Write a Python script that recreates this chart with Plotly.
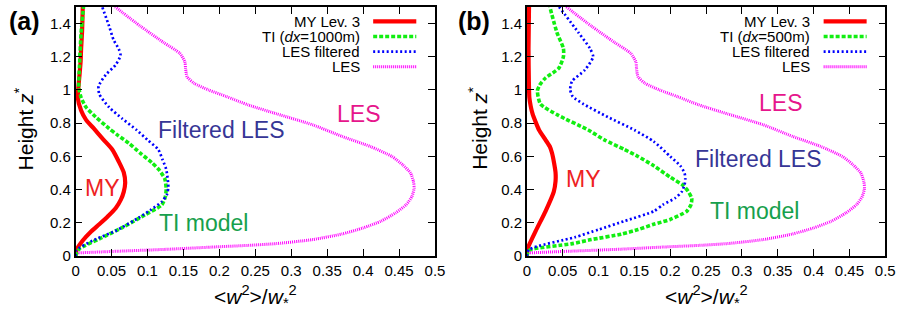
import plotly.graph_objects as go

# ---------------- profiles: height z* vs <w^2>/w*^2 ----------------
# Panel (a): TI model with dx = 1000 m
z_my_a = [0, 0.035, 0.094, 0.15, 0.192, 0.24, 0.29, 0.34, 0.387, 0.44, 0.504, 0.57, 0.642,
          0.70, 0.77, 0.82, 0.876, 0.954, 1.02, 1.091, 1.17, 1.247, 1.35, 1.5]
w_my_a = [0, 0.001, 0.010, 0.022, 0.033, 0.045, 0.056, 0.063, 0.067, 0.069, 0.067, 0.060, 0.051,
          0.039, 0.025, 0.0146, 0.0077, 0.003, 0.004, 0.0055, 0.007, 0.0077, 0.009, 0.010]

z_ti_a = [0, 0.045, 0.104, 0.172, 0.25, 0.309, 0.36, 0.407, 0.466, 0.52, 0.563, 0.62, 0.68,
          0.73, 0.768, 0.837, 0.896, 0.954, 1.013, 1.15, 1.345, 1.5]
w_ti_a = [0, 0.0055, 0.033, 0.065, 0.097, 0.120, 0.125, 0.126, 0.124, 0.116, 0.106, 0.090, 0.074,
          0.058, 0.0466, 0.028, 0.0146, 0.0077, 0.0045, 0.0055, 0.0077, 0.011]

z_flt_a = [0, 0.035, 0.094, 0.152, 0.231, 0.28, 0.328, 0.37, 0.416, 0.47, 0.524, 0.58, 0.642,
           0.70, 0.759, 0.827, 0.896, 0.974, 1.023, 1.091, 1.15, 1.208, 1.247, 1.30, 1.384, 1.5]
w_flt_a = [0, 0.001, 0.0237, 0.0556, 0.0877, 0.105, 0.120, 0.127, 0.129, 0.128, 0.126, 0.121, 0.115,
           0.100, 0.085, 0.065, 0.0466, 0.033, 0.032, 0.042, 0.0556, 0.0625, 0.060, 0.053, 0.0466, 0.037]

# Panel (b): TI model with dx = 500 m
z_my_b = [0, 0.045, 0.152, 0.27, 0.387, 0.45, 0.504, 0.56, 0.622, 0.66, 0.70, 0.759, 0.81,
          0.856, 0.90, 0.954, 1.05, 1.247, 1.5]
w_my_b = [0, 0.001, 0.0124, 0.026, 0.0375, 0.040, 0.040, 0.038, 0.035, 0.032, 0.026, 0.017, 0.012,
          0.008, 0.0055, 0.0035, 0.0028, 0.0023, 0.003]

z_ti_b = [0, 0.035, 0.074, 0.10, 0.133, 0.16, 0.192, 0.221, 0.27, 0.31, 0.348, 0.39, 0.426, 0.475,
          0.544, 0.60, 0.642, 0.70, 0.759, 0.847, 0.915, 0.994, 1.03, 1.072, 1.13, 1.20, 1.25,
          1.345, 1.5]
w_ti_b = [0, 0.003, 0.062, 0.090, 0.132, 0.155, 0.177, 0.200, 0.223, 0.229, 0.230, 0.225, 0.218,
          0.200, 0.177, 0.155, 0.136, 0.108, 0.0856, 0.044, 0.019, 0.0147, 0.018, 0.026, 0.0444,
          0.051, 0.051, 0.042, 0.032]

z_flt_b = [0, 0.04, 0.114, 0.16, 0.211, 0.27, 0.31, 0.35, 0.387, 0.43, 0.466, 0.50, 0.544, 0.60,
           0.69, 0.759, 0.837, 0.915, 0.96, 1.003, 1.052, 1.12, 1.20, 1.25, 1.345, 1.5]
w_flt_b = [0, 0.003, 0.067, 0.100, 0.136, 0.177, 0.190, 0.207, 0.216, 0.220, 0.221, 0.220, 0.214,
           0.200, 0.177, 0.150, 0.113, 0.079, 0.064, 0.0604, 0.063, 0.081, 0.0925, 0.088, 0.072, 0.045]

# Unfiltered LES (same in both panels)
z_les = [0.02, 0.03, 0.042, 0.055, 0.065, 0.076, 0.10, 0.133, 0.17, 0.211, 0.26, 0.31, 0.36, 0.41,
         0.45, 0.50, 0.55, 0.60, 0.66, 0.72, 0.79, 0.856, 0.91, 0.96, 1.00, 1.04, 1.08, 1.13, 1.17,
         1.22, 1.287, 1.384, 1.5]
w_les = [0.004, 0.06, 0.13, 0.19, 0.24, 0.28, 0.33, 0.37, 0.40, 0.425, 0.445, 0.46, 0.468, 0.471,
         0.47, 0.466, 0.455, 0.44, 0.41, 0.371, 0.33, 0.28, 0.24, 0.21, 0.185, 0.165, 0.155, 0.153,
         0.152, 0.145, 0.122, 0.09, 0.055]

legend_names_a = ["MY Lev. 3", "TI (<i>dx</i>=1000m)", "LES filtered", "LES"]
legend_names_b = ["MY Lev. 3", "TI (<i>dx</i>=500m)", "LES filtered", "LES"]
panel_tags = ["(a)", "(b)"]

x_ticks = [0, 0.05, 0.1, 0.15, 0.2, 0.25, 0.3, 0.35, 0.4, 0.45, 0.5]
y_ticks = [0, 0.2, 0.4, 0.6, 0.8, 1.0, 1.2, 1.4]

# ---------------- styles ----------------
FONT = "Liberation Sans, Arial, Helvetica, sans-serif"
styles = [
    dict(color="#ff0000", width=4.2, dash="solid"),       # MY
    dict(color="#11ee11", width=3.6, dash="4px,2px"),     # TI
    dict(color="#0000ff", width=2.7, dash="2px,2.5px"),   # LES filtered
    dict(color="#ff00ff", width=3.0, dash="1px,1px"),     # LES
]

W, H = 913, 323
Y0_PX, Y1_PX = 262.7, 7.0
dom_a = [72.7 / W, 437.7 / W]
dom_b = [531.0 / W, 895.0 / W]
dom_y = [1 - Y0_PX / H, 1 - Y1_PX / H]

fig = go.Figure()

panels = [
    ("x", "y", [(z_my_a, w_my_a), (z_ti_a, w_ti_a), (z_flt_a, w_flt_a), (z_les, w_les)]),
    ("x2", "y2", [(z_my_b, w_my_b), (z_ti_b, w_ti_b), (z_flt_b, w_flt_b), (z_les, w_les)]),
]
for xa, ya, curves in panels:
    for (zz, ww), st in zip(curves, styles):
        fig.add_trace(go.Scatter(x=ww, y=zz, xaxis=xa, yaxis=ya, mode="lines",
                                 line=dict(shape="spline", smoothing=0.6, **st),
                                 showlegend=False, hoverinfo="skip"))

axis_common = dict(showgrid=False, zeroline=False, showline=True, linecolor="black",
                   linewidth=1.5, mirror="ticks", ticks="inside", ticklen=7,
                   tickcolor="black", tickwidth=1,
                   tickfont=dict(family=FONT, size=15, color="black"))

fig.update_layout(
    width=W, height=H, margin=dict(l=0, r=0, t=0, b=0),
    paper_bgcolor="white", plot_bgcolor="white",
    xaxis=dict(domain=dom_a, range=[0, 0.5], tickvals=x_ticks, anchor="y", **axis_common),
    yaxis=dict(domain=dom_y, range=[0, 1.5], tickvals=y_ticks, anchor="x", **axis_common),
    xaxis2=dict(domain=dom_b, range=[0, 0.5], tickvals=x_ticks, anchor="y2", **axis_common),
    yaxis2=dict(domain=dom_y, range=[0, 1.5], tickvals=y_ticks, anchor="x2", **axis_common),
    showlegend=False,
)

annotations = []
shapes = []

# legend rows (text right-aligned, line sample on the right)
row_px = [22.0, 37.5, 53.0, 68.5]
def ydata(px):
    return (Y0_PX - px) / ((Y0_PX - Y1_PX) / 1.5)

for xa, ya, names in [("x", "y", legend_names_a), ("x2", "y2", legend_names_b)]:
    for name, rp, st in zip(names, row_px, styles):
        yy = ydata(rp)
        annotations.append(dict(x=0.398, y=yy, xref=xa, yref=ya, text=name, showarrow=False,
                                xanchor="right", yanchor="middle",
                                font=dict(family=FONT, size=15, color="black")))
        shapes.append(dict(type="line", xref=xa, yref=ya, x0=0.414, x1=0.474, y0=yy, y1=yy,
                           line=dict(color=st["color"], width=st["width"], dash=st["dash"])))

# curve labels
labels = [
    ("x", "y", 0.037, 0.409, "MY", "#ee2222"),
    ("x", "y", 0.203, 0.759, "Filtered LES", "#363696"),
    ("x", "y", 0.394, 0.856, "LES", "#e6168c"),
    ("x", "y", 0.178, 0.202, "TI model", "#16a04c"),
    ("x2", "y2", 0.0787, 0.466, "MY", "#ee2222"),
    ("x2", "y2", 0.3226, 0.583, "Filtered LES", "#363696"),
    ("x2", "y2", 0.3535, 0.919, "LES", "#e6168c"),
    ("x2", "y2", 0.318, 0.27, "TI model", "#16a04c"),
]
for xa, ya, xv, yv, txt, col in labels:
    annotations.append(dict(x=xv, y=yv, xref=xa, yref=ya, text=txt, showarrow=False,
                            xanchor="center", yanchor="middle",
                            font=dict(family=FONT, size=23, color=col)))

# axis titles and panel tags
xtitle = "&lt;<i>w</i><sup>2</sup>&gt;/<i>w</i><sub>*</sub><sup>2</sup>"
ytitle = "Height <i>z</i><sup>*</sup>"
for cx_title, cy_title, cx_x in [(20.0, 132.0, 255.2), (481.5, 132.0, 713.0)]:
    annotations.append(dict(x=cx_title / W, y=1 - cy_title / H, xref="paper", yref="paper",
                            text=ytitle, textangle=-90, showarrow=False,
                            xanchor="center", yanchor="middle",
                            font=dict(family=FONT, size=21, color="black")))
    annotations.append(dict(x=cx_x / W, y=1 - 304.0 / H, xref="paper", yref="paper",
                            text=xtitle, showarrow=False, xanchor="center", yanchor="middle",
                            font=dict(family=FONT, size=21, color="black")))

for tag, cx in zip(panel_tags, [21.0, 477.5]):
    annotations.append(dict(x=cx / W, y=1 - 21.5 / H, xref="paper", yref="paper",
                            text="<b>" + tag + "</b>", showarrow=False,
                            xanchor="center", yanchor="middle",
                            font=dict(family=FONT, size=25, color="black")))

fig.update_layout(annotations=annotations, shapes=shapes)
fig.write_html("out.html")
